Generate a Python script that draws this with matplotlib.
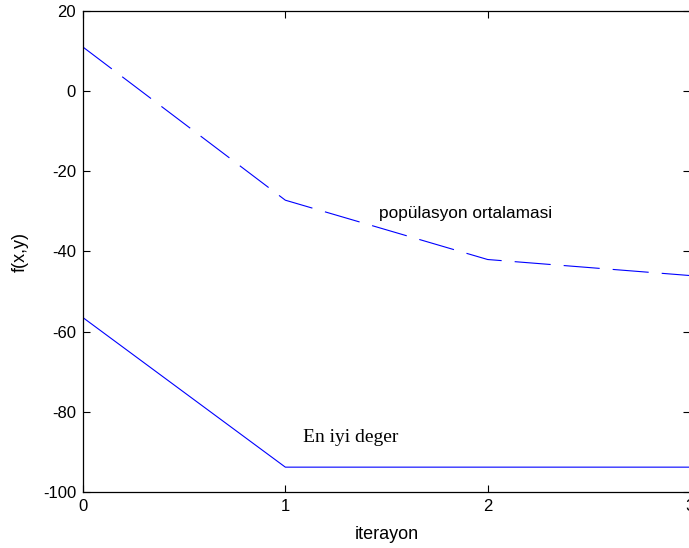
import matplotlib
matplotlib.use("Agg")
import matplotlib.pyplot as plt

# iteration results
iterations = [0, 1, 2, 3]
pop_mean = [11, -27.2, -42, -46]
best_value = [-56.5, -93.8, -93.8, -93.8]

plt.rcParams['font.family'] = ['Liberation Sans', 'DejaVu Sans']
plt.rcParams['lines.scale_dashes'] = False
plt.rcParams['axes.unicode_minus'] = False

fig = plt.figure(figsize=(6.89, 5.48), dpi=100)
ax = fig.add_axes([83 / 689, 1 - 492 / 548, 607 / 689, 481 / 548])

line_mean, = ax.plot(iterations, pop_mean, color='#0000ff', linewidth=0.8)
line_mean.set_dashes((26, 9.4))
ax.plot(iterations, best_value, color='#0000ff', linewidth=0.8)

ax.text(1.463, -30.4, 'popülasyon ortalamasi', fontsize=12.4, va='center', ha='left')
ax.text(1.086, -86.3, 'En iyi deger', fontsize=14, va='center', ha='left',
        family=['Liberation Serif', 'DejaVu Serif'])

ax.set_xlim(0, 3)
ax.set_ylim(-100, 20)
ax.set_xticks([0, 1, 2, 3])
ax.set_yticks(range(-100, 21, 20))
ax.tick_params(direction='in', length=5, width=0.8, top=True, right=True,
               labelsize=12, pad=5)
for s in ax.spines.values():
    s.set_linewidth(0.9)

ax.set_xlabel('iterayon', fontsize=13, labelpad=9)
ax.set_ylabel('f(x,y)', fontsize=13, labelpad=10)

fig.savefig('out.png', dpi=100)
